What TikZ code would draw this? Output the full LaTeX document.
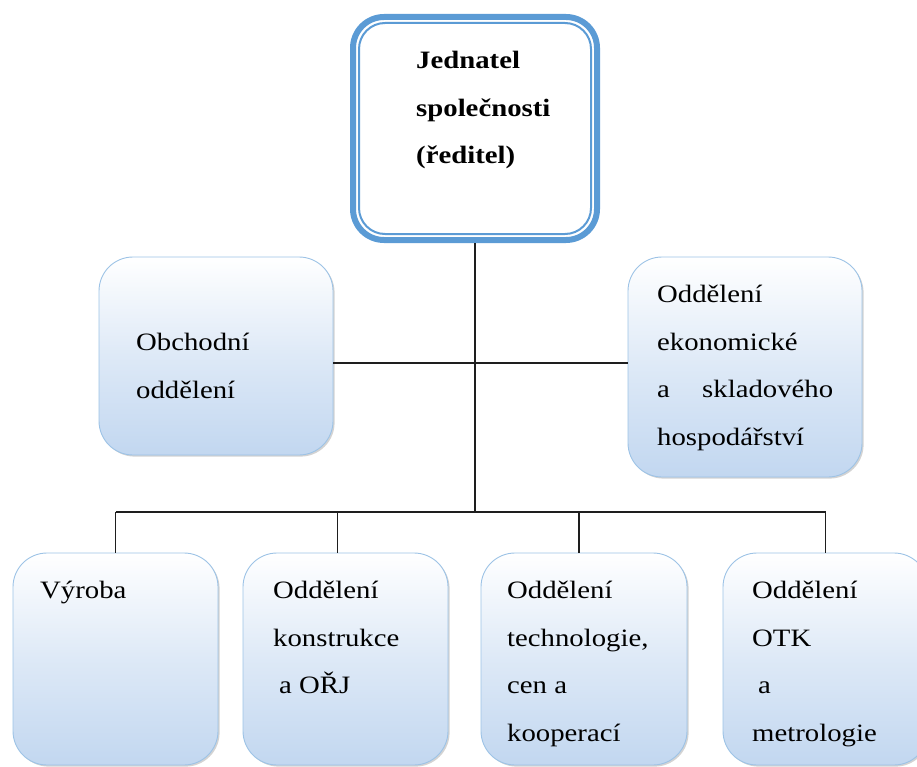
\documentclass[tikz,border=0pt]{standalone}
\usepackage{fontspec}
\setmainfont{Liberation Serif}[FakeStretch=1.15]
\usetikzlibrary{shadows}
\definecolor{boxline}{RGB}{157,195,230}
\definecolor{boxfill}{RGB}{194,215,240}
\definecolor{topline}{RGB}{91,155,213}
\definecolor{conn}{RGB}{30,30,30}
\tikzset{
  box/.style={rectangle, rounded corners=34pt, draw=boxline, line width=0.9pt,
    top color=white, bottom color=boxfill, middle color=white!45!boxfill,
    drop shadow={shadow xshift=1.6pt, shadow yshift=-1.6pt, opacity=0.35, fill=gray},
    inner sep=0pt},
  lbl/.style={anchor=north west, inner sep=0pt, align=left,
    font=\fontsize{25}{47.5}\selectfont},
  conline/.style={draw=conn, line width=1.2pt}
}
\begin{document}
\begin{tikzpicture}[x=1pt,y=-1pt]
\useasboundingbox (0,0) rectangle (917,767);
\clip (0,0) rectangle (917,767);
% top box
\node[rectangle, rounded corners=31pt, draw=topline, line width=6pt, fill=white,
  minimum width=244pt, minimum height=223pt, inner sep=0pt] (top) at (475,128.5) {};
\node[rectangle, rounded corners=26pt, draw=topline, line width=2pt,
  minimum width=232pt, minimum height=211pt, inner sep=0pt] (topin) at (top.center) {};
% middle boxes
\node[box, minimum width=234pt, minimum height=198pt] (obch) at (216,356) {};
\node[box, minimum width=234pt, minimum height=220pt] (ekon) at (745,367) {};
% bottom boxes
\node[box, minimum width=205pt, minimum height=212pt] (vyr) at (115.5,659) {};
\node[box, minimum width=205pt, minimum height=212pt] (konst) at (345.5,659) {};
\node[box, minimum width=206pt, minimum height=212pt] (tech) at (584,659) {};
\node[box, minimum width=205pt, minimum height=212pt] (otk) at (825.5,659) {};
% texts
\node[lbl, font=\fontsize{25}{47.5}\selectfont\bfseries] (ttop) at (416,35.1)
  {\strut Jednatel\\ společnosti\\ (ředitel)};
\node[lbl] (tobch) at (136,317.1) {\strut Obchodní\\ oddělení};
\node[lbl] (tekon) at (657,269.1)
  {\strut Oddělení\\ ekonomické\\ \makebox[45pt][l]{a}skladového\\ hospodářství};
\node[lbl] (tvyr) at (40,565.1) {\strut Výroba};
\node[lbl] (tkonst) at (273,565.1) {\strut Oddělení\\ konstrukce\\ \hspace*{6pt}a OŘJ};
\node[lbl] (ttech) at (507,565.1) {\strut Oddělení\\ technologie,\\ cen a\\ kooperací};
\node[lbl] (totk) at (752,565.1) {\strut Oddělení\\ OTK\\ \hspace*{6pt}a\\ metrologie};
% connectors
\coordinate (mid) at (475,363);
\coordinate (hub) at (475,512);
\draw[conline] (top.south) -- (hub);
\draw[conline] (obch.east |- mid) -- (ekon.west |- mid);
\draw[conline] (vyr.north |- hub) -- (otk.north |- hub);
\draw[conline] (vyr.north |- hub) -- (vyr.north);
\draw[conline] ([xshift=-8pt]konst.north |- hub) -- ([xshift=-8pt]konst.north);
\draw[conline] ([xshift=-5pt]tech.north |- hub) -- ([xshift=-5pt]tech.north);
\draw[conline] (otk.north |- hub) -- (otk.north);
\end{tikzpicture}
\end{document}
